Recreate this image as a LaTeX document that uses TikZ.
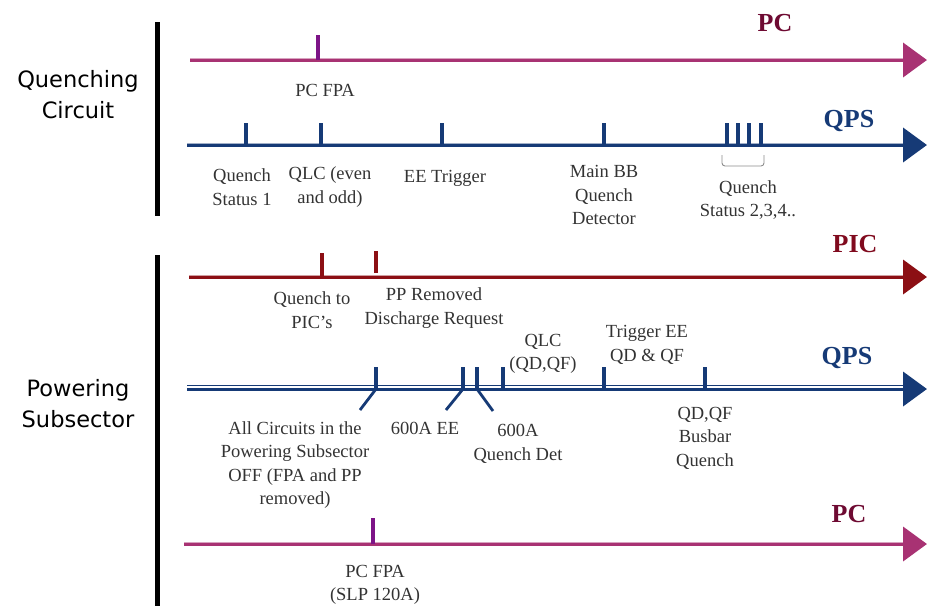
\documentclass[tikz,border=0pt]{standalone}
\usepackage{fontspec}
\setmainfont{Liberation Serif}
\newfontfamily\labsans{DejaVu Sans}
\usetikzlibrary{arrows.meta}
\definecolor{pinkc}{RGB}{168,50,115}
\definecolor{pctick}{RGB}{125,20,135}
\definecolor{pclab}{RGB}{110,10,50}
\definecolor{qpsc}{RGB}{22,58,118}
\definecolor{picc}{RGB}{140,15,20}
\definecolor{piclab}{RGB}{128,10,30}
\tikzset{
  lab/.style={align=center,font=\fontsize{18.5}{23.5}\selectfont,text=black!80,inner sep=0pt},
  sidelab/.style={align=center,font=\labsans\fontsize{22.5}{31}\selectfont,inner sep=0pt},
  head/.style={font=\bfseries\fontsize{26}{28}\selectfont,inner sep=0pt},
  axis/.style={line width=4pt,-{Triangle[length=24pt,width=34pt]}},
  tick/.style={line width=3.2pt},
  bar/.style={line width=5pt,black}
}
\begin{document}
\begin{tikzpicture}[x=1pt,y=-1pt]
\useasboundingbox (0,0) rectangle (927,606);
% group bars
\coordinate (b1t) at (157,22); \coordinate (b1b) at (157,216);
\coordinate (b2t) at (157,255); \coordinate (b2b) at (157,606);
\draw[bar] (b1t) -- (b1b);
\draw[bar] (b2t) -- (b2b);
\node[sidelab] (qc) at (78,95) {Quenching\\Circuit};
\node[sidelab] (ps) at (78,404) {Powering\\Subsector};

% ---- PC top
\coordinate (pc1s) at (190,60); \coordinate (pc1e) at (927,60);
\draw[axis,pinkc] (pc1s) -- (pc1e);
\draw[pinkc!45,line width=0.8pt] (190,58.2) -- (903,58.2);
\coordinate (t1) at (318,60);
\draw[tick,pctick] (t1) -- ++(0,-25);
\node[head,text=pclab] (pc1l) at (775,23) {PC};
\node[lab] (l1) at (325,90) {PC FPA};

% ---- QPS top
\coordinate (q1s) at (187,145); \coordinate (q1e) at (927,145);
\draw[axis,qpsc] (q1s) -- (q1e);
\draw[qpsc!40,line width=0.8pt] (187,143.2) -- (903,143.2);
\foreach \x/\n in {246/a,321/b,442/c,604/d,727/e,738/f,749/g,761/h}
  \coordinate (q1\n) at (\x,145);
\foreach \n in {a,b,c,d,e,f,g,h}
  \draw[tick,qpsc] (q1\n) -- ++(0,-22);
\draw[black!45,line width=0.9pt,rounded corners=3pt] (722,155) -- (722,166) -- (764,166) -- (764,155);
\node[head,text=qpsc] (q1l) at (849,121) {QPS};
\node[lab] (l2) at (242,187) {Quench\\Status 1};
\node[lab] (l3) at (330,187) {QLC (even\\and odd)};
\node[lab] (l4) at (445,178) {EE Trigger};
\node[lab] (l5) at (604,195) {Main BB\\Quench\\Detector};
\node[lab] (l6) at (748,200) {Quench\\Status 2,3,4..};

% ---- PIC
\coordinate (ps1) at (189,277); \coordinate (pe1) at (927,277);
\draw[axis,picc] (ps1) -- (pe1);
\draw[picc!40,line width=0.8pt] (189,275.2) -- (903,275.2);
\coordinate (p1a) at (322,277); \coordinate (p1b) at (376,273);
\draw[tick,picc] (p1a) -- ++(0,-24);
\draw[tick,picc] (p1b) -- ++(0,-22);
\node[head,text=piclab] (picl) at (855,244) {PIC};
\node[lab] (l7) at (312,310) {Quench to\\PIC’s};
\node[lab] (l8) at (434,308) {PP Removed\\Discharge Request};

% ---- QPS bottom
\coordinate (q2s) at (187,389); \coordinate (q2e) at (927,389);
\draw[axis,qpsc] (q2s) -- (q2e);
\draw[white,line width=1pt] (187,387.6) -- (903,387.6);
\draw[qpsc,line width=1pt] (187,385.2) -- (903,385.2);
\foreach \x/\n in {376/a,463/b,477/c,503/d,604/e,705/f}
  \coordinate (q2\n) at (\x,389);
\foreach \n in {a,b,c,d,e,f}
  \draw[tick,qpsc] (q2\n) -- ++(0,-22);
\draw[qpsc,line width=2.8pt] (q2a) -- ++(-16,21);
\draw[qpsc,line width=2.8pt] (q2b) -- ++(-17,21);
\draw[qpsc,line width=2.8pt] (q2c) -- ++(16,22);
\node[head,text=qpsc] (q2l) at (847,358) {QPS};
\node[lab] (l9) at (295,465) {All Circuits in the\\Powering Subsector\\OFF (FPA and PP\\removed)};
\node[lab] (l10) at (425,428) {600A EE};
\node[lab] (l11) at (518,444) {600A\\Quench Det};
\node[lab] (l12) at (543,354) {QLC\\(QD,QF)};
\node[lab] (l13) at (647,345) {Trigger EE\\QD \& QF};
\node[lab] (l14) at (705,438) {QD,QF\\Busbar\\Quench};

% ---- PC bottom
\coordinate (pc2s) at (184,544); \coordinate (pc2e) at (927,544);
\draw[axis,pinkc] (pc2s) -- (pc2e);
\draw[pinkc!45,line width=0.8pt] (184,542.2) -- (903,542.2);
\coordinate (t2) at (373,544);
\draw[tick,pctick] (t2) -- ++(0,-26);
\node[head,text=pclab] (pc2l) at (849,514) {PC};
\node[lab] (l15) at (375,585) {PC FPA\\(SLP 120A)};
\end{tikzpicture}
\end{document}
